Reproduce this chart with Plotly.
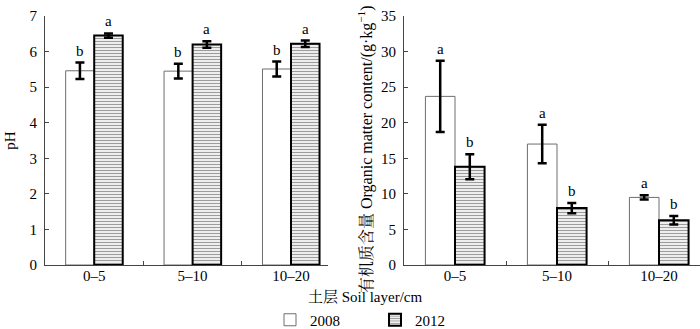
import plotly.graph_objects as go

layers = ["0–5", "5–10", "10–20"]
years = ["2008", "2012"]

ph_2008 = [5.46, 5.45, 5.51]
ph_2008_err = [0.23, 0.21, 0.21]
ph_2012 = [6.45, 6.20, 6.22]
ph_2012_err = [0.06, 0.09, 0.09]
ph_letters_2008 = ["b", "b", "b"]
ph_letters_2012 = ["a", "a", "a"]

om_2008 = [23.7, 17.0, 9.5]
om_2008_err = [5.0, 2.7, 0.3]
om_2012 = [13.8, 8.0, 6.3]
om_2012_err = [1.75, 0.72, 0.6]
om_letters_2008 = ["a", "a", "a"]
om_letters_2012 = ["b", "b", "b"]

SERIF = "Liberation Serif, Times New Roman, serif"
CJK = "Liberation Serif, Noto Serif CJK SC, Noto Sans CJK SC, serif"
W, H = 700, 329
TOP, BOTTOM = 16, 265  # plot area in pixels
PH = BOTTOM - TOP

fig = go.Figure()

style_2008 = dict(marker=dict(color="white", line=dict(color="#6e6e6e", width=1)))
style_2012 = dict(marker=dict(color="white",
                              pattern=dict(shape="-", size=3, solidity=0.45,
                                           fgcolor="#3a3a3a", bgcolor="white"),
                              line=dict(color="black", width=2)))
err_style = dict(type="data", visible=True, color="black", thickness=2.5, width=4.5)

fig.add_trace(go.Bar(x=layers, y=ph_2008, name=years[0], xaxis="x", yaxis="y",
                     error_y=dict(array=ph_2008_err, **err_style),
                     legendgroup="2008", showlegend=True, **style_2008))
fig.add_trace(go.Bar(x=layers, y=ph_2012, name=years[1], xaxis="x", yaxis="y",
                     error_y=dict(array=ph_2012_err, **err_style),
                     legendgroup="2012", showlegend=True, **style_2012))
fig.add_trace(go.Bar(x=layers, y=om_2008, name=years[0], xaxis="x2", yaxis="y2",
                     error_y=dict(array=om_2008_err, **err_style),
                     legendgroup="2008", showlegend=False, **style_2008))
fig.add_trace(go.Bar(x=layers, y=om_2012, name=years[1], xaxis="x2", yaxis="y2",
                     error_y=dict(array=om_2012_err, **err_style),
                     legendgroup="2012", showlegend=False, **style_2012))

bargap = 0.42
off = (1 - bargap) / 4

annotations = []
def add_letters(xref, yref, vals, errs, letters, sign):
    for i, (v, e, t) in enumerate(zip(vals, errs, letters)):
        annotations.append(dict(x=i + sign * off, y=v + e, xref=xref, yref=yref,
                                text=t, showarrow=False, yanchor="bottom", yshift=2,
                                font=dict(family=SERIF, size=15, color="black")))

add_letters("x", "y", ph_2008, ph_2008_err, ph_letters_2008, -1)
add_letters("x", "y", ph_2012, ph_2012_err, ph_letters_2012, 1)
add_letters("x2", "y2", om_2008, om_2008_err, om_letters_2008, -1)
add_letters("x2", "y2", om_2012, om_2012_err, om_letters_2012, 1)

annotations.append(dict(x=365 / W, y=(BOTTOM - 297) / PH, xref="paper", yref="paper",
                        text="土层 Soil layer/cm", showarrow=False,
                        xanchor="center", yanchor="middle",
                        font=dict(family=CJK, size=15, color="black")))
annotations.append(dict(x=365 / W, y=(BOTTOM - 149) / PH, xref="paper", yref="paper",
                        text="有机质含量 Organic matter content/(g·kg<sup>−1</sup>)",
                        textangle=-90, showarrow=False,
                        xanchor="center", yanchor="middle",
                        font=dict(family=CJK, size=16, color="black")))

axis_common = dict(showline=True, linecolor="#444", linewidth=1, mirror=False,
                   showgrid=False, zeroline=False, automargin=False,
                   tickfont=dict(family=SERIF, size=15, color="black"))

fig.update_layout(
    width=W, height=H,
    margin=dict(l=0, r=0, t=TOP, b=H - BOTTOM, autoexpand=False),
    paper_bgcolor="white", plot_bgcolor="white",
    barmode="group", bargap=bargap, bargroupgap=0,
    font=dict(family=SERIF, size=15, color="black"),
    xaxis=dict(domain=[45 / W, 328 / W], range=[-0.5, 2.376], type="category",
               tickson="boundaries", ticks="inside", ticklen=4, tickcolor="#444",
               anchor="y", ticklabelstandoff=-3, **axis_common),
    yaxis=dict(domain=[0, 1], range=[0, 7], dtick=1, ticks="inside", ticklen=4,
               tickcolor="#444", anchor="x", ticklabelstandoff=4,
               title=dict(text="pH", font=dict(family=SERIF, size=15), standoff=10),
               **axis_common),
    xaxis2=dict(domain=[404 / W, 1.0], range=[-0.5, 2.402], type="category",
                tickson="boundaries", ticks="inside", ticklen=4, tickcolor="#444",
                anchor="y2", ticklabelstandoff=-3, **axis_common),
    yaxis2=dict(domain=[0, 1], range=[0, 35], dtick=5, ticks="inside", ticklen=4,
                tickcolor="#444", anchor="x2", ticklabelstandoff=4,
                **axis_common),
    legend=dict(orientation="h", x=270 / W, y=(BOTTOM - 320) / PH, xanchor="left",
                yanchor="middle", font=dict(family=SERIF, size=15, color="black"),
                bgcolor="rgba(0,0,0,0)", entrywidth=60, entrywidthmode="pixels",
                itemwidth=30, tracegroupgap=0),
    annotations=annotations,
)

fig.write_html("out.html", config={"displayModeBar": False},
               post_script="document.body.style.margin='0';document.body.style.overflow='hidden';")
